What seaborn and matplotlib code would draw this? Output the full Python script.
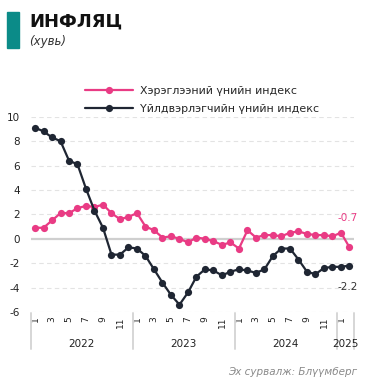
import numpy as np
import pandas as pd
import matplotlib
matplotlib.use("Agg")
import matplotlib.pyplot as plt
import seaborn as sns

# Monthly inflation, Jan 2022 – Feb 2025 (percent)
cpi_label = "Хэрэглээний үнийн индекс"
ppi_label = "Үйлдвэрлэгчийн үнийн индекс"
cpi = [0.9, 0.9, 1.5, 2.1, 2.1, 2.5, 2.7, 2.6, 2.8, 2.1, 1.6, 1.8,
       2.1, 1.0, 0.7, 0.1, 0.2, 0.0, -0.3, 0.1, 0.0, -0.2, -0.5, -0.3,
       -0.8, 0.7, 0.1, 0.3, 0.3, 0.2, 0.5, 0.6, 0.4, 0.3, 0.3, 0.2,
       0.5, -0.7]
ppi = [9.1, 8.8, 8.3, 8.0, 6.4, 6.1, 4.1, 2.3, 0.9, -1.3, -1.3, -0.7,
       -0.8, -1.4, -2.5, -3.6, -4.6, -5.4, -4.4, -3.1, -2.5, -2.6, -3.0, -2.7,
       -2.5, -2.6, -2.8, -2.5, -1.4, -0.8, -0.8, -1.7, -2.7, -2.9, -2.4, -2.3,
       -2.3, -2.2]
years = ["2022", "2023", "2024", "2025"]
months_per_year = [12, 12, 12, 2]
month_ticks = ["1", "3", "5", "7", "9", "11"]
y_ticks = [-6, -4, -2, 0, 2, 4, 6, 8, 10]

PINK = "#e93b84"
DARK = "#1f2633"
TEAL = "#0b8b88"
GRID = "#e3e3e3"
SEP = "#d6d6d6"

sns.set_theme(style="white")
plt.rcParams["font.family"] = ["DejaVu Sans"]

n = len(cpi)
idx = np.arange(n)
df = pd.DataFrame({
    "t": np.concatenate([idx, idx]),
    "value": cpi + ppi,
    "series": [cpi_label] * n + [ppi_label] * n,
})

fig = plt.figure(figsize=(3.67, 3.81), dpi=100)
ax = fig.add_axes([0.0838, 0.1811, 0.880, 0.5126])

sns.lineplot(data=df, x="t", y="value", hue="series",
             hue_order=[cpi_label, ppi_label], palette=[PINK, DARK],
             marker="o", markersize=5.2, markeredgewidth=0, linewidth=1.6,
             ax=ax, legend=True)

ax.set_xlim(-0.5, n - 0.5)
ax.set_ylim(-6, 10)
ax.set_yticks(y_ticks)
ax.set_yticklabels([str(v) for v in y_ticks], fontsize=7.5, color="#222222")
ax.tick_params(axis="y", length=0, pad=8)
for v in y_ticks:
    if v == 0:
        ax.axhline(0, color="#cfcfcf", lw=1.6, zorder=0)
    else:
        ax.axhline(v, color=GRID, lw=0.8, ls=(0, (4, 3)), zorder=0)
for s in ax.spines.values():
    s.set_visible(False)
ax.set_xlabel("")
ax.set_ylabel("")

# month tick labels (odd months) along the bottom
tick_pos = [i for i in idx if i % 2 == 0]
tick_lab = [month_ticks[(i % 12) // 2] for i in tick_pos]
ax.set_xticks(tick_pos)
ax.set_xticklabels(tick_lab, rotation=90, fontsize=6.5, color="#222222")
ax.tick_params(axis="x", length=0, pad=3)

# year separators and year labels
start = -0.5
trans = ax.get_xaxis_transform()
bounds = [start]
for m in months_per_year:
    bounds.append(bounds[-1] + m)
for b in bounds:
    ax.plot([b, b], [-0.005, -0.19], transform=trans, color=SEP, lw=1.4,
            clip_on=False)
for yr, a, b in zip(years, bounds[:-1], bounds[1:]):
    ax.text((a + b) / 2, -0.165, yr, transform=trans, ha="center",
            va="center", fontsize=7.5, color="#222222")

# last-value labels
ax.annotate(f"{cpi[-1]:.1f}", (n - 1, cpi[-1]), xytext=(8, 29),
            textcoords="offset pixels", ha="right", va="center",
            fontsize=7.5, color=PINK)
ax.annotate(f"{ppi[-1]:.1f}", (n - 1, ppi[-1]), xytext=(8, -21),
            textcoords="offset pixels", ha="right", va="center",
            fontsize=7.5, color="#333333")

# legend
handles, labels = ax.get_legend_handles_labels()
ax.legend(handles, labels, loc="upper left", bbox_to_anchor=(0.2316, 0.775),
          bbox_transform=fig.transFigure, frameon=False, fontsize=7.9,
          handlelength=4.4, handletextpad=0.65, labelspacing=0.75,
          borderaxespad=0, borderpad=0)

# heading
fig.patches.append(plt.Rectangle((7 / 367, 1 - 48 / 381), 12 / 367, 36 / 381,
                                 transform=fig.transFigure, color=TEAL))
fig.text(29 / 367, 1 - 22 / 381, "ИНФЛЯЦ", fontsize=13, fontweight="bold",
         color="#111111", va="center", ha="left")
fig.text(29 / 367, 1 - 41 / 381, "(хувь)", fontsize=8.5, style="italic",
         color="#333333", va="center", ha="left")
fig.text(357 / 367, 1 - 372 / 381, "Эх сурвалж: Блүүмберг", fontsize=7.5,
         style="italic", color="#8a8a8a", va="center", ha="right")

fig.savefig("out.png", dpi=100)
